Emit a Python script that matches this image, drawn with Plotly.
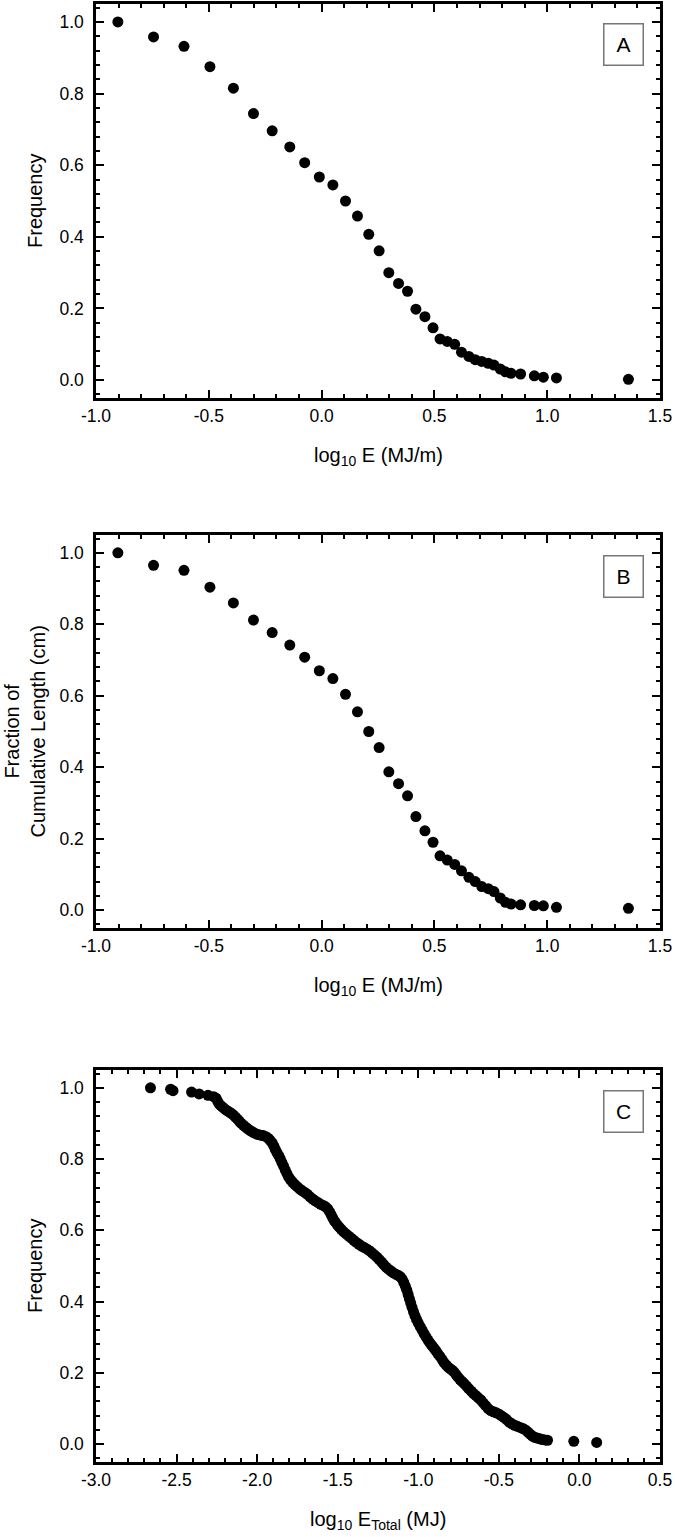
import plotly.graph_objects as go

# Panel A / B: energy per metre (log10), shared x values
log_e = [-0.903, -0.745, -0.610, -0.495, -0.391, -0.302, -0.219, -0.141, -0.075, -0.010,
         0.050, 0.106, 0.159, 0.209, 0.255, 0.298, 0.341, 0.381, 0.418, 0.458,
         0.494, 0.525, 0.557, 0.590, 0.620, 0.653, 0.681, 0.710, 0.739, 0.764,
         0.792, 0.815, 0.840, 0.882, 0.943, 0.983, 1.041, 1.360]

freq_a = [1.000, 0.958, 0.932, 0.875, 0.815, 0.744, 0.696, 0.651, 0.607, 0.567,
          0.545, 0.500, 0.458, 0.407, 0.361, 0.300, 0.270, 0.248, 0.198, 0.177,
          0.146, 0.115, 0.108, 0.100, 0.078, 0.066, 0.057, 0.052, 0.047, 0.042,
          0.031, 0.023, 0.019, 0.017, 0.012, 0.008, 0.006, 0.002]

frac_b = [1.000, 0.965, 0.951, 0.904, 0.860, 0.812, 0.777, 0.742, 0.708, 0.670,
          0.648, 0.604, 0.555, 0.500, 0.455, 0.387, 0.354, 0.320, 0.262, 0.222,
          0.190, 0.152, 0.140, 0.128, 0.110, 0.092, 0.080, 0.066, 0.060, 0.052,
          0.034, 0.022, 0.017, 0.015, 0.013, 0.012, 0.008, 0.005]

# Panel C: total energy (log10)
log_et = [-2.662, -2.537, -2.522, -2.407, -2.360, -2.305, -2.270, -2.255, -2.245, -2.236,
          -2.225, -2.212, -2.200, -2.187, -2.172, -2.160, -2.148, -2.135, -2.122, -2.110,
          -2.098, -2.085, -2.072, -2.058, -2.043, -2.028, -2.012, -1.995, -1.978, -1.962,
          -1.945, -1.930, -1.918, -1.906, -1.896, -1.887, -1.877, -1.866, -1.856, -1.846,
          -1.836, -1.826, -1.816, -1.805, -1.793, -1.780, -1.765, -1.750, -1.735, -1.720,
          -1.703, -1.688, -1.672, -1.656, -1.640, -1.622, -1.605, -1.590, -1.575, -1.562,
          -1.550, -1.540, -1.530, -1.518, -1.505, -1.492, -1.478, -1.463, -1.448, -1.432,
          -1.416, -1.400, -1.384, -1.368, -1.352, -1.336, -1.320, -1.303, -1.287, -1.272,
          -1.257, -1.242, -1.228, -1.214, -1.200, -1.185, -1.170, -1.155, -1.140, -1.125,
          -1.112, -1.100, -1.090, -1.080, -1.071, -1.063, -1.055, -1.047, -1.039, -1.030,
          -1.021, -1.011, -1.000, -0.988, -0.976, -0.964, -0.952, -0.940, -0.928, -0.916,
          -0.904, -0.892, -0.880, -0.867, -0.853, -0.840, -0.827, -0.815, -0.803, -0.791,
          -0.779, -0.767, -0.755, -0.742, -0.729, -0.715, -0.701, -0.687, -0.672, -0.657,
          -0.642, -0.627, -0.612, -0.597, -0.582, -0.566, -0.550, -0.533, -0.517, -0.501,
          -0.485, -0.469, -0.452, -0.436, -0.419, -0.402, -0.385, -0.368, -0.351, -0.335,
          -0.320, -0.306, -0.292, -0.277, -0.262, -0.246, -0.230, -0.214, -0.198,
          -0.035, 0.107]

freq_c = [1.000, 0.996, 0.992, 0.988, 0.983, 0.979, 0.975, 0.971, 0.962, 0.955,
          0.950, 0.945, 0.940, 0.936, 0.932, 0.928, 0.924, 0.918, 0.912, 0.906,
          0.900, 0.895, 0.890, 0.885, 0.880, 0.876, 0.872, 0.869, 0.867, 0.866,
          0.863, 0.858, 0.852, 0.845, 0.836, 0.827, 0.818, 0.810, 0.800, 0.790,
          0.780, 0.770, 0.760, 0.750, 0.742, 0.735, 0.728, 0.722, 0.716, 0.711,
          0.706, 0.701, 0.694, 0.688, 0.683, 0.678, 0.673, 0.670, 0.666, 0.660,
          0.652, 0.643, 0.634, 0.625, 0.617, 0.610, 0.603, 0.596, 0.590, 0.584,
          0.578, 0.572, 0.566, 0.561, 0.556, 0.552, 0.548, 0.543, 0.537, 0.531,
          0.525, 0.518, 0.511, 0.504, 0.497, 0.491, 0.486, 0.481, 0.477, 0.474,
          0.470, 0.463, 0.454, 0.443, 0.432, 0.420, 0.408, 0.396, 0.384, 0.372,
          0.361, 0.350, 0.340, 0.330, 0.320, 0.310, 0.301, 0.292, 0.284, 0.277,
          0.270, 0.263, 0.255, 0.247, 0.238, 0.229, 0.222, 0.216, 0.212, 0.208,
          0.203, 0.196, 0.189, 0.182, 0.176, 0.170, 0.163, 0.156, 0.149, 0.142,
          0.136, 0.130, 0.124, 0.116, 0.108, 0.100, 0.094, 0.091, 0.088, 0.085,
          0.080, 0.075, 0.069, 0.062, 0.057, 0.053, 0.050, 0.047, 0.044, 0.040,
          0.034, 0.028, 0.023, 0.019, 0.017, 0.015, 0.013, 0.012, 0.011,
          0.008, 0.005]

# tick labels (hyphen minus, as in the original)
x_ticks_ab = [-1.0, -0.5, 0.0, 0.5, 1.0, 1.5]
x_labels_ab = ["-1.0", "-0.5", "0.0", "0.5", "1.0", "1.5"]
x_ticks_c = [-3.0, -2.5, -2.0, -1.5, -1.0, -0.5, 0.0, 0.5]
x_labels_c = ["-3.0", "-2.5", "-2.0", "-1.5", "-1.0", "-0.5", "0.0", "0.5"]
y_ticks = [0.0, 0.2, 0.4, 0.6, 0.8, 1.0]
y_labels = ["0.0", "0.2", "0.4", "0.6", "0.8", "1.0"]

W, H = 675, 1537
FONT = "Liberation Sans, Arial, sans-serif"
TICK_SIZE = 17.5
TITLE_SIZE = 20

fig = go.Figure()
marker = dict(color="black", size=11, line=dict(width=0))
fig.add_trace(go.Scatter(x=log_e, y=freq_a, mode="markers", marker=marker, xaxis="x", yaxis="y"))
fig.add_trace(go.Scatter(x=log_e, y=frac_b, mode="markers", marker=marker, xaxis="x2", yaxis="y2"))
fig.add_trace(go.Scatter(x=log_et, y=freq_c, mode="markers", marker=marker, xaxis="x3", yaxis="y3"))


def py(px):
    return 1 - px / H


x_dom = [96 / W, 660 / W]
panels = [  # (top px, bottom px)
    (4, 398),
    (535, 928),
    (1070, 1462),
]


def xaxis(rng, anchor, vals, text):
    return dict(domain=x_dom, range=rng, anchor=anchor, showline=True, linewidth=2.5,
                linecolor="black", mirror="ticks", ticks="inside", ticklen=8, tickwidth=2,
                tickcolor="black", tickmode="array", tickvals=vals, ticktext=text,
                showgrid=False, zeroline=False, ticklabelstandoff=0, automargin=False,
                minor=dict(ticks="inside", dtick=0.1, tick0=0, ticklen=4, tickwidth=2,
                           tickcolor="black"),
                tickfont=dict(family=FONT, size=TICK_SIZE, color="black"))


def yaxis(top, bot, anchor):
    return dict(domain=[py(bot), py(top)], range=[-0.05, 1.05], anchor=anchor, showline=True,
                linewidth=2.5, linecolor="black", mirror="ticks", ticks="inside", ticklen=8,
                tickwidth=2, tickcolor="black", tickmode="array", tickvals=y_ticks,
                ticktext=y_labels, showgrid=False, zeroline=False, ticklabelstandoff=6,
                automargin=False,
                minor=dict(ticks="inside", dtick=0.04, tick0=0, ticklen=4, tickwidth=2,
                           tickcolor="black"),
                tickfont=dict(family=FONT, size=TICK_SIZE, color="black"))


fig.update_layout(
    width=W, height=H, margin=dict(l=0, r=0, t=0, b=0, autoexpand=False),
    paper_bgcolor="white", plot_bgcolor="white", showlegend=False,
    xaxis=xaxis([-1.0, 1.5], "y", x_ticks_ab, x_labels_ab), yaxis=yaxis(*panels[0], "x"),
    xaxis2=xaxis([-1.0, 1.5], "y2", x_ticks_ab, x_labels_ab), yaxis2=yaxis(*panels[1], "x2"),
    xaxis3=xaxis([-3.0, 0.5], "y3", x_ticks_c, x_labels_c), yaxis3=yaxis(*panels[2], "x3"),
)

xcen = (96 + 660) / 2 / W
xtitles = ["log<sub>10</sub> E (MJ/m)", "log<sub>10</sub> E (MJ/m)",
           "log<sub>10</sub> E<sub>Total</sub> (MJ)"]
ytitles = ["Frequency", "Fraction of<br>Cumulative Length (cm)", "Frequency"]
letters = ["A", "B", "C"]
for (top, bot), xt, yt, lt in zip(panels, xtitles, ytitles, letters):
    fig.add_annotation(x=xcen, y=py(bot + 58), xref="paper", yref="paper", text=xt,
                       xanchor="center", yanchor="middle", showarrow=False,
                       font=dict(family=FONT, size=TITLE_SIZE, color="black"))
    fig.add_annotation(x=(24 if "<br>" in yt else 35) / W, y=py((top + bot) / 2),
                       xref="paper", yref="paper", text=yt, textangle=-90, showarrow=False,
                       xanchor="center", yanchor="middle",
                       font=dict(family=FONT, size=TITLE_SIZE, color="black"))
    fig.add_annotation(x=623.5 / W, y=py(top + 41), xref="paper", yref="paper", text=lt,
                       xanchor="center", yanchor="middle", showarrow=False, width=38,
                       height=40, bordercolor="#777777", borderwidth=1.5, borderpad=0,
                       bgcolor="white", font=dict(family=FONT, size=21, color="black"))

# the page body has a default 8px margin; remove it so the figure fills the window
fig.write_html("out.html", config={"displayModeBar": False},
               post_script="document.body.style.margin='0px';")
